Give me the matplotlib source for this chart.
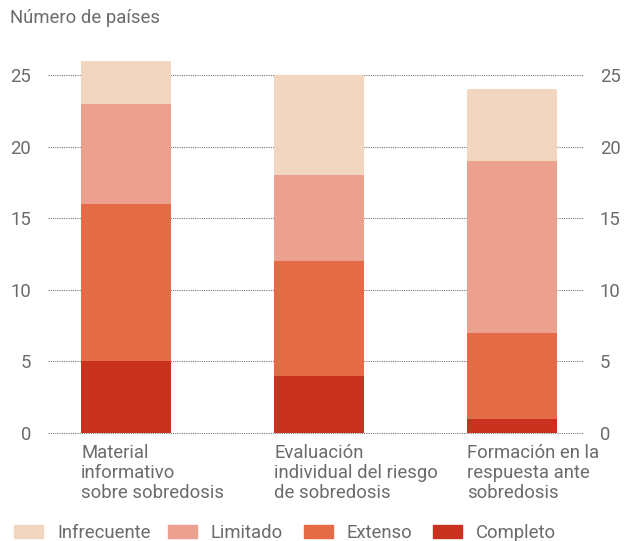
import matplotlib.pyplot as plt
import matplotlib.patches as mpatches
import numpy as np

# Data
categories = ['Material\ninformativo\nsobre sobredosis',
              'Evaluación\nindividual del riesgo\nde sobredosis',
              'Formación en la\nrespuesta ante\nsobredosis']
levels = ['Completo', 'Extenso', 'Limitado', 'Infrecuente']
completo = [5, 4, 1]
extenso = [11, 8, 6]
limitado = [7, 6, 12]
infrecuente = [3, 7, 5]
yticks = [0, 5, 10, 15, 20, 25]

colors = {'Completo': '#C8321F', 'Extenso': '#E36C47',
          'Limitado': '#EBA18D', 'Infrecuente': '#F2D6BF'}
text_color = '#6b6b6b'
fs = 13.3

plt.rcParams['font.family'] = ['Roboto', 'DejaVu Sans']

fig = plt.figure(figsize=(6.25, 5.41), dpi=100)
ax = fig.add_axes([0.0768, 0.1996, 0.856, 0.688])

x = np.arange(len(categories))
width = 0.466
bottom = np.zeros(len(categories))
series = {'Completo': completo, 'Extenso': extenso,
          'Limitado': limitado, 'Infrecuente': infrecuente}
for lvl in levels:
    vals = np.array(series[lvl])
    ax.bar(x, vals, width, bottom=bottom, color=colors[lvl],
           label=lvl, zorder=3, linewidth=0)
    bottom += vals

ax.set_xlim(-0.404, 2.368)
ax.set_ylim(0, 26)
ax.set_yticks(yticks)
for y in yticks:
    ax.axhline(y, color='#7a7a7a', linestyle=(0, (1, 1)), linewidth=0.8,
               zorder=1, clip_on=False)

for s in ax.spines.values():
    s.set_visible(False)
ax.set_xticks([])
ax.tick_params(axis='y', length=0, labelsize=fs, labelcolor=text_color,
               left=False, right=False, labelleft=True, labelright=True, pad=12)

# category labels, left aligned on bar edge
for xi, cat in zip(x, categories):
    ax.text(xi - width / 2, -0.8, cat, ha='left', va='top', fontsize=fs,
            color=text_color, linespacing=1.14)

fig.text(0.016, 0.966, 'Número de países', ha='left', va='center',
         fontsize=fs, color=text_color)

# legend drawn by hand to keep the reference spacing
legend_order = ['Infrecuente', 'Limitado', 'Extenso', 'Completo']
legend_x = [14, 168, 304, 433]  # pixel x of each swatch
W, H = 625, 541
for lbl, px in zip(legend_order, legend_x):
    fig.patches.append(mpatches.Rectangle((px / W, 1 - 538 / H), 29 / W, 13 / H,
                                          transform=fig.transFigure,
                                          color=colors[lbl], figure=fig))
    fig.text((px + 43) / W, 1 - 532.5 / H, lbl, ha='left', va='center',
             fontsize=fs, color=text_color)

fig.savefig('out.png', dpi=100)
